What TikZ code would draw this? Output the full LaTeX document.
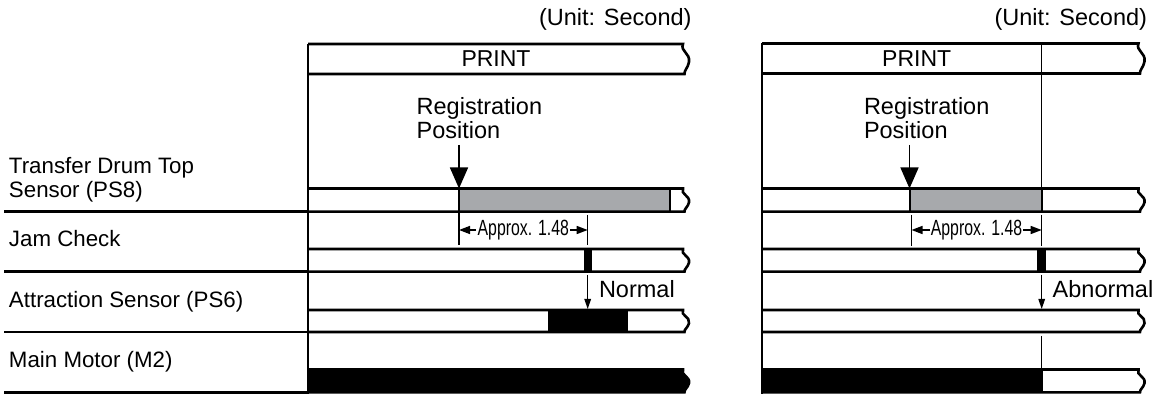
\documentclass[tikz,border=0pt]{standalone}
\usepackage{fontspec}
\usepackage{graphicx}
\setmainfont{Liberation Sans}
\usetikzlibrary{arrows.meta}
\definecolor{barGray}{RGB}{167,169,172}
% signal bar with a wavy break at its right end: [options]{x0}{xend}{top}{bottom}
\newcommand\sigbar[5][]{\path[#1] (#2,#4) -- (#3,#4)
  .. controls ({#3-3},{#4+0.25*(#5-#4)}) and ({#3+7.5},{#4+0.3*(#5-#4)}) .. ({#3+6},{#4+0.6*(#5-#4)})
  .. controls ({#3+5},{#4+0.8*(#5-#4)}) and ({#3+1},{#4+0.88*(#5-#4)}) .. ({#3+1.5},#5) -- (#2,#5);}
\begin{document}
\begin{tikzpicture}[x=1pt,y=-1pt,
  rule/.style={line width=2.6pt},
  edge/.style={line width=2.2pt},
  thinrule/.style={line width=1.5pt},
  txt/.style={inner sep=0pt, outer sep=0pt},
  lbl/.style={txt, font=\fontsize{22.3}{23.5}\selectfont, anchor=base west},
  bigtxt/.style={txt, font=\fontsize{23.5}{23.5}\selectfont},
  dimtxt/.style={inner sep=1.2pt, outer sep=0pt, font=\fontsize{22}{22}\selectfont},
  regarrow/.style={line width=1.5pt, -{Triangle[width=18pt,length=21pt]}},
  smallarrow/.style={line width=1.4pt, -{Triangle[width=6.5pt,length=10pt]}},
  dimarrow/.style={line width=1.4pt, {Triangle[width=8pt,length=11pt]}-},
  tick/.style={line width=1.3pt},
]
\useasboundingbox (0,0) rectangle (1165,395);

% ---------------- labels ----------------
\node[lbl] (l1a) at (9,174) {Transfer Drum Top};
\node[lbl] (l1b) at (9,197.5) {Sensor (PS8)};
\node[lbl] (l2) at (9,246.8) {Jam Check};
\node[lbl] (l3) at (9,307.3) {Attraction Sensor (PS6)};
\node[lbl] (l4) at (9,367.3) {Main Motor (M2)};
\draw[rule] (4,211.7) -- (308,211.7);
\draw[rule] (4,271.7) -- (308,271.7);
\draw[rule] (4,332) -- (308,332);
\draw[rule] (4,392.3) -- (308,392.3);

% ---------------- left panel ----------------
\node[bigtxt, anchor=base east] (unitL) at (691.5,26) {(Unit: Second)};
\sigbar[draw, rule]{308}{683}{44}{74}
\node[bigtxt, font=\fontsize{23}{23}\selectfont] (printL) at (496,59) {PRINT};

\node[bigtxt, anchor=base west] (regL1) at (416.7,115) {Registration};
\node[bigtxt, anchor=base west] (regL2) at (416.7,138.5) {Position};
\coordinate (regLs) at (459,145);
\coordinate (regLe) at (459,188.5);

% Transfer drum top sensor
\fill[barGray] (459,188.5) rectangle (670,211.7);
\sigbar[draw, rule]{308}{683}{188.5}{211.7}
\draw[line width=2pt] (459,188.5) -- (459,211.7);
\draw[line width=2pt] (670,188.5) -- (670,211.7);
\draw[regarrow] (regLs) -- (regLe);

% dimension
\node[dimtxt] (dimL) at (523.3,230) {\scalebox{0.72}[1]{Approx. 1.48}};
\coordinate (dLa) at (459,230);
\coordinate (dLb) at (587.7,230);
\draw[tick] (459,212.5) -- (459,245);
\draw[tick] (587.7,215) -- (587.7,245);
\draw[dimarrow] (dLa) -- (dimL.west);
\draw[dimarrow] (dLb) -- (dimL.east);

% Jam check
\fill (583.5,249) rectangle (591.8,271.7);
\sigbar[draw, rule]{308}{683}{249}{271.7}
\coordinate (nLs) at (587.7,275);
\coordinate (nLe) at (587.7,309);
\draw[smallarrow] (nLs) -- (nLe);
\node[bigtxt, anchor=base west] (normal) at (599,297.8) {Normal};

% Attraction sensor
\fill (548,310) rectangle (628,332);
\sigbar[draw, rule]{308}{683}{310}{332}

% Main motor
\sigbar[draw, fill=black, rule]{308}{683}{369.5}{392.3}

\draw[edge] (308,44) -- (308,393.5);

% ---------------- right panel ----------------
\node[bigtxt, anchor=base east] (unitR) at (1147,26) {(Unit: Second)};
\sigbar[draw, rule]{762}{1138.5}{43.5}{73.5}
\node[bigtxt, font=\fontsize{23}{23}\selectfont] (printR) at (916.7,58.5) {PRINT};
\draw[thinrule] (1041.7,43.5) -- (1041.7,189);

\node[bigtxt, anchor=base west] (regR1) at (864,115) {Registration};
\node[bigtxt, anchor=base west] (regR2) at (864,138.5) {Position};
\coordinate (regRs) at (909.5,145);
\coordinate (regRe) at (909.5,188.5);

\fill[barGray] (909.5,188.5) rectangle (1041.7,211.7);
\sigbar[draw, rule]{762}{1138.5}{188.5}{211.7}
\draw[line width=2pt] (909.5,188.5) -- (909.5,211.7);
\draw[line width=2pt] (1041.7,188.5) -- (1041.7,211.7);
\draw[regarrow] (regRs) -- (regRe);

\node[dimtxt] (dimR) at (976.5,230) {\scalebox{0.72}[1]{Approx. 1.48}};
\coordinate (dRa) at (911.5,230);
\coordinate (dRb) at (1041.7,230);
\draw[tick] (911.5,215) -- (911.5,246);
\draw[tick] (1041.7,215) -- (1041.7,246);
\draw[dimarrow] (dRa) -- (dimR.west);
\draw[dimarrow] (dRb) -- (dimR.east);

\fill (1037.4,249) rectangle (1045.8,271.7);
\sigbar[draw, rule]{762}{1138.5}{249}{271.7}
\coordinate (aRs) at (1041.7,275);
\coordinate (aRe) at (1041.7,309);
\draw[smallarrow] (aRs) -- (aRe);
\node[bigtxt, anchor=base west] (abnormal) at (1052.7,297.5) {Abnormal};

\sigbar[draw, rule]{762}{1138.5}{310}{332}

\draw[thinrule] (1041.7,336) -- (1041.7,369.5);
\fill (762,369.5) rectangle (1042.5,392.3);
\sigbar[draw, rule]{762}{1138.5}{369.5}{392.3}

\draw[edge] (762,43.5) -- (762,393.5);
\end{tikzpicture}
\end{document}
